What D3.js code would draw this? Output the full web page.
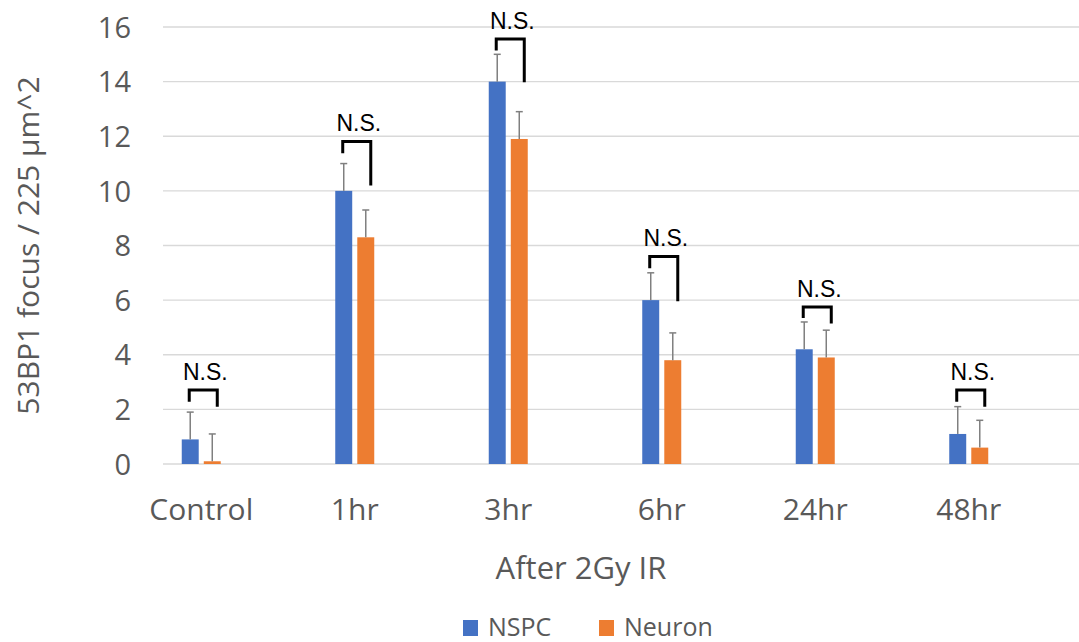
<!DOCTYPE html>
<html>
<head>
<meta charset="utf-8">
<script src="https://cdn.jsdelivr.net/npm/d3@7"></script>
<style>
  html, body { margin: 0; padding: 0; background: #fff; }
  svg { display: block; }
</style>
</head>
<body>
<svg id="chart" width="1079" height="642"></svg>
<script>
const categories = ["Control", "1hr", "3hr", "6hr", "24hr", "48hr"];
const seriesNames = ["NSPC", "Neuron"];
const nspcValues = [0.9, 10.0, 14.0, 6.0, 4.2, 1.1];
const nspcErrors = [1.0, 1.0, 1.0, 1.0, 1.0, 1.0];
const neuronValues = [0.1, 8.3, 11.9, 3.8, 3.9, 0.6];
const neuronErrors = [1.0, 1.0, 1.0, 1.0, 1.0, 1.0];
const yTicks = [0, 2, 4, 6, 8, 10, 12, 14, 16];
// significance brackets (value units): top level, left leg end, right leg end
const sigLabel = "N.S.";
const sigTop = [2.71, 11.81, 15.56, 7.6, 5.75, 2.71];
const sigLeftEnd = [2.28, 11.38, 15.14, 7.17, 5.35, 2.28];
const sigRightEnd = [2.1, 10.2, 13.98, 5.96, 5.14, 2.1];
const yTitle = "53BP1 focus / 225 µm^2";
const xTitle = "After 2Gy IR";

const colors = { NSPC: "#4472C4", Neuron: "#ED7D31" };
const textColor = "#595959";
const font = "'Open Sans', 'Noto Sans', sans-serif";

const svg = d3.select("#chart");

const y = d3.scaleLinear().domain([0, 16]).range([464, 27]);
const x0 = d3.scaleBand().domain(categories).range([124.5, 1045.5]);
const pairWidth = 39;
const x1 = d3.scaleBand().domain(seriesNames).range([0, pairWidth]).paddingInner(0.23);
const catLeft = c => x0(c) + x0.bandwidth() / 2 - pairWidth / 2;

// gridlines
svg.append("g").selectAll("line").data(yTicks).join("line")
  .attr("x1", 163).attr("x2", 1079)
  .attr("y1", d => y(d)).attr("y2", d => y(d))
  .attr("stroke", "#d9d9d9").attr("stroke-width", 1.3);

// y axis labels
const yAxis = d3.axisLeft(y).tickValues(yTicks).tickSize(0).tickPadding(0);
const gy = svg.append("g").attr("transform", "translate(131,0)").call(yAxis);
gy.select(".domain").remove();
gy.selectAll("text").attr("font-family", font).attr("font-size", 29)
  .attr("fill", textColor).attr("dy", "0.35em");

// x axis labels
const xAxis = d3.axisBottom(x0).tickSize(0).tickPadding(0);
const gx = svg.append("g").attr("transform", "translate(0,499)").call(xAxis);
gx.select(".domain").remove();
gx.selectAll("text").attr("font-family", font).attr("font-size", 30)
  .attr("fill", textColor).attr("dy", "0.71em");

// bars
const rows = categories.map((c, i) => ({
  c,
  vals: [
    { s: "NSPC", v: nspcValues[i], e: nspcErrors[i] },
    { s: "Neuron", v: neuronValues[i], e: neuronErrors[i] }
  ]
}));

const groups = svg.append("g").selectAll("g").data(rows).join("g")
  .attr("transform", d => `translate(${catLeft(d.c)},0)`);

groups.selectAll("rect").data(d => d.vals).join("rect")
  .attr("x", d => x1(d.s)).attr("width", x1.bandwidth())
  .attr("y", d => y(d.v)).attr("height", d => y(0) - y(d.v))
  .attr("fill", d => colors[d.s]);

// error bars
const eb = groups.selectAll("g.eb").data(d => d.vals).join("g").attr("class", "eb");
eb.append("line")
  .attr("x1", d => x1(d.s) + x1.bandwidth() / 2).attr("x2", d => x1(d.s) + x1.bandwidth() / 2)
  .attr("y1", d => y(d.v)).attr("y2", d => y(d.v + d.e))
  .attr("stroke", "#7f7f7f").attr("stroke-width", 1.5);
eb.append("line")
  .attr("x1", d => x1(d.s) + x1.bandwidth() / 2 - 3.5).attr("x2", d => x1(d.s) + x1.bandwidth() / 2 + 3.5)
  .attr("y1", d => y(d.v + d.e)).attr("y2", d => y(d.v + d.e))
  .attr("stroke", "#7f7f7f").attr("stroke-width", 1.5);

// significance brackets
categories.forEach((c, i) => {
  const lx = catLeft(c) + x1("NSPC") + x1.bandwidth() / 2 - 1;
  const rx = catLeft(c) + x1("Neuron") + x1.bandwidth() / 2 + 5;
  const path = d3.path();
  path.moveTo(lx, y(sigLeftEnd[i]));
  path.lineTo(lx, y(sigTop[i]));
  path.lineTo(rx, y(sigTop[i]));
  path.lineTo(rx, y(sigRightEnd[i]));
  svg.append("path").attr("d", path.toString())
    .attr("fill", "none").attr("stroke", "#000").attr("stroke-width", 3);
  svg.append("text").attr("x", (lx + rx) / 2 + 2).attr("y", y(sigTop[i]) - 10)
    .attr("text-anchor", "middle").attr("font-family", "'Liberation Sans', Arial, sans-serif")
    .attr("font-size", 23).attr("fill", "#000").text(sigLabel);
});

// axis titles
svg.append("text")
  .attr("transform", `translate(39,${(y(0) + y(16)) / 2}) rotate(-90)`)
  .attr("text-anchor", "middle").attr("font-family", font).attr("font-size", 30)
  .attr("fill", textColor).text(yTitle);
svg.append("text").attr("x", 581).attr("y", 579)
  .attr("text-anchor", "middle").attr("font-family", font).attr("font-size", 31)
  .attr("fill", textColor).text(xTitle);

// legend
const legendX = [463, 599];
const lg = svg.append("g").selectAll("g").data(seriesNames).join("g")
  .attr("transform", (d, i) => `translate(${legendX[i]},620)`);
lg.append("rect").attr("width", 15).attr("height", 16).attr("fill", d => colors[d]);
lg.append("text").attr("x", 25).attr("y", 16)
  .attr("font-family", font).attr("font-size", 25).attr("fill", textColor).text(d => d);
</script>
</body>
</html>
